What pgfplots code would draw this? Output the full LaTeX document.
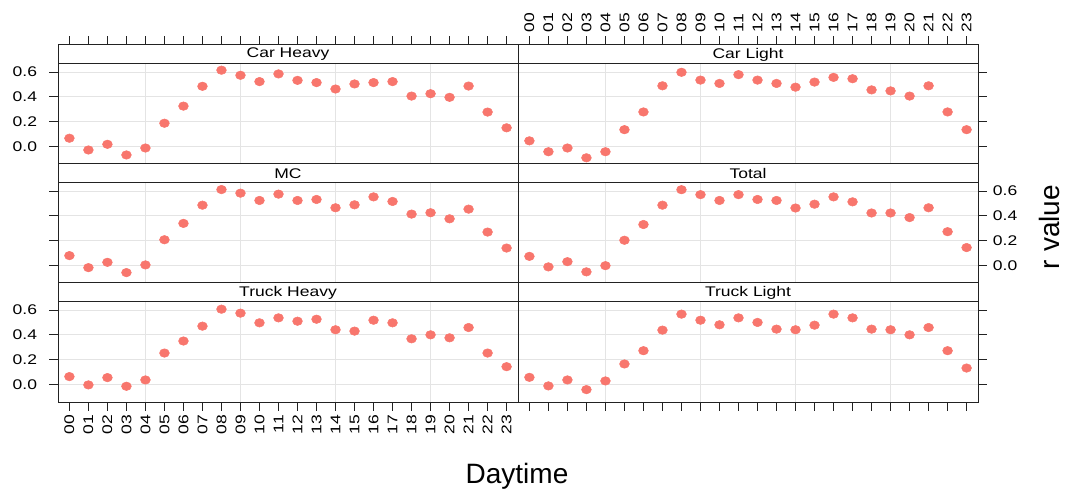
\documentclass[border=0pt]{standalone}
\usepackage{fontspec}
\setmainfont{Liberation Sans}
\newfontfamily\widefont[FakeStretch=1.25]{Liberation Sans}
\usepackage{pgfplots}
\usepackage{pgfplotstable}
\pgfplotsset{compat=1.18}

\definecolor{dot}{HTML}{F8766D}
\definecolor{gridgray}{HTML}{E4E4E4}
\definecolor{frame}{HTML}{222222}

\newcommand{\smallfont}{\widefont\fontsize{10.5}{12}\selectfont}
\newcommand{\bigfont}{\fontsize{21}{24}\selectfont}

% hourly correlation (r) per vehicle class
\pgfplotstableread{
hour carheavy carlight mc     total  truckheavy trucklight
0     0.065   0.044   0.078  0.072  0.062      0.056
1    -0.030  -0.044  -0.019 -0.013 -0.005     -0.013
2     0.016  -0.014   0.024  0.029  0.054      0.035
3    -0.070  -0.093  -0.059 -0.053 -0.016     -0.043
4    -0.014  -0.044   0.003 -0.003  0.035      0.027
5     0.186   0.134   0.206  0.202  0.252      0.164
6     0.324   0.277   0.338  0.329  0.349      0.271
7     0.484   0.488   0.485  0.485  0.469      0.437
8     0.614   0.597   0.611  0.610  0.606      0.566
9     0.573   0.534   0.582  0.570  0.574      0.517
10    0.522   0.507   0.523  0.523  0.496      0.480
11    0.584   0.578   0.574  0.570  0.536      0.536
12    0.532   0.534   0.523  0.531  0.509      0.499
13    0.514   0.507   0.531  0.523  0.525      0.445
14    0.462   0.477   0.464  0.462  0.440      0.440
15    0.503   0.518   0.488  0.493  0.429      0.477
16    0.514   0.556   0.552  0.552  0.517      0.566
17    0.522   0.545   0.515  0.512  0.496      0.536
18    0.405   0.455   0.413  0.422  0.367      0.445
19    0.424   0.447   0.424  0.422  0.399      0.440
20    0.395   0.405   0.375  0.385  0.375      0.399
21    0.486   0.488   0.453  0.464  0.458      0.458
22    0.276   0.277   0.268  0.271  0.252      0.271
23    0.149   0.134   0.139  0.143  0.142      0.131
}\rtable

% each axis holds one panel plus its title strip on top:
% data range -0.143..0.664 over 75pt, strip of 14.25pt above it
\pgfplotsset{
  panel/.style={
    scale only axis, width=345pt, height=89.25pt, anchor=north west,
    xmin=-0.6, xmax=23.6, ymin=-0.143, ymax=0.8173,
    axis line style={frame, line width=0.75pt},
    tick align=outside, major tick length=6.5pt,
    tick style={frame, line width=0.6pt},
    xtick={0,...,23},
    xticklabels={00,01,02,03,04,05,06,07,08,09,10,11,12,13,14,15,16,17,18,19,20,21,22,23},
    ytick={0,0.2,0.4,0.6},
    yticklabels={0.0,0.2,0.4,0.6},
    ymajorgrids,
    grid style={gridgray, line width=0.6pt},
    extra x ticks={4,9,14,19},
    extra x tick labels={},
    extra x tick style={grid=major, major tick length=0pt},
    ticklabel style={font=\smallfont},
    clip=false,
  },
  bottomlabels/.style={xticklabel style={rotate=90, anchor=east, inner sep=0pt}, xticklabel shift=3pt},
  toplabels/.style={xticklabel pos=right, xticklabel style={rotate=90, anchor=west, inner sep=0pt}, xticklabel shift=3pt},
  leftlabels/.style={yticklabel style={anchor=east, inner sep=0pt}, yticklabel shift=9pt},
  rightlabels/.style={yticklabel pos=right, yticklabel style={anchor=west, inner sep=0pt}, yticklabel shift=4.5pt},
  dots/.style={only marks, mark=*, mark size=3.2pt, color=dot,
    mark options={xscale=1.15, fill=dot, draw=dot}},
}

\newcommand{\strip}[1]{%
  \draw[frame, line width=0.75pt, fill=white] (axis cs:-0.6,0.664) rectangle (axis cs:23.6,0.8173);
  \node[font=\smallfont, inner sep=0pt] at (axis cs:11.5,0.7407) {#1};
}

\begin{document}
\begin{tikzpicture}
% left column
\begin{axis}[panel, at={(43.5pt,-33.75pt)}, xtick pos=right, xticklabels={}, ytick pos=left, leftlabels]
  \addplot[dots] table[x=hour, y=carheavy] {\rtable};
  \strip{Car Heavy}
\end{axis}
\begin{axis}[panel, at={(43.5pt,-123pt)}, xtick=\empty, ytick pos=left, yticklabels={}]
  \addplot[dots] table[x=hour, y=mc] {\rtable};
  \strip{MC}
\end{axis}
\begin{axis}[panel, at={(43.5pt,-212.25pt)}, xtick pos=left, bottomlabels, ytick pos=left, leftlabels]
  \addplot[dots] table[x=hour, y=truckheavy] {\rtable};
  \strip{Truck Heavy}
\end{axis}
% right column
\begin{axis}[panel, at={(388.5pt,-33.75pt)}, xtick pos=right, toplabels, ytick pos=right, yticklabels={}]
  \addplot[dots] table[x=hour, y=carlight] {\rtable};
  \strip{Car Light}
\end{axis}
\begin{axis}[panel, at={(388.5pt,-123pt)}, xtick=\empty, ytick pos=right, rightlabels]
  \addplot[dots] table[x=hour, y=total] {\rtable};
  \strip{Total}
\end{axis}
\begin{axis}[panel, at={(388.5pt,-212.25pt)}, xtick pos=left, xticklabels={}, ytick pos=right, yticklabels={}]
  \addplot[dots] table[x=hour, y=trucklight] {\rtable};
  \strip{Truck Light}
\end{axis}
% axis titles
\node[font=\bigfont, anchor=base, inner sep=0pt] at (387.75pt,-362.25pt) {Daytime};
\node[font=\bigfont, anchor=base, rotate=90, inner sep=0pt] at (794.5pt,-170.25pt) {r value};
\pgfresetboundingbox
\path[use as bounding box] (0,0) rectangle (800.25pt,-368.25pt);
\end{tikzpicture}
\end{document}
